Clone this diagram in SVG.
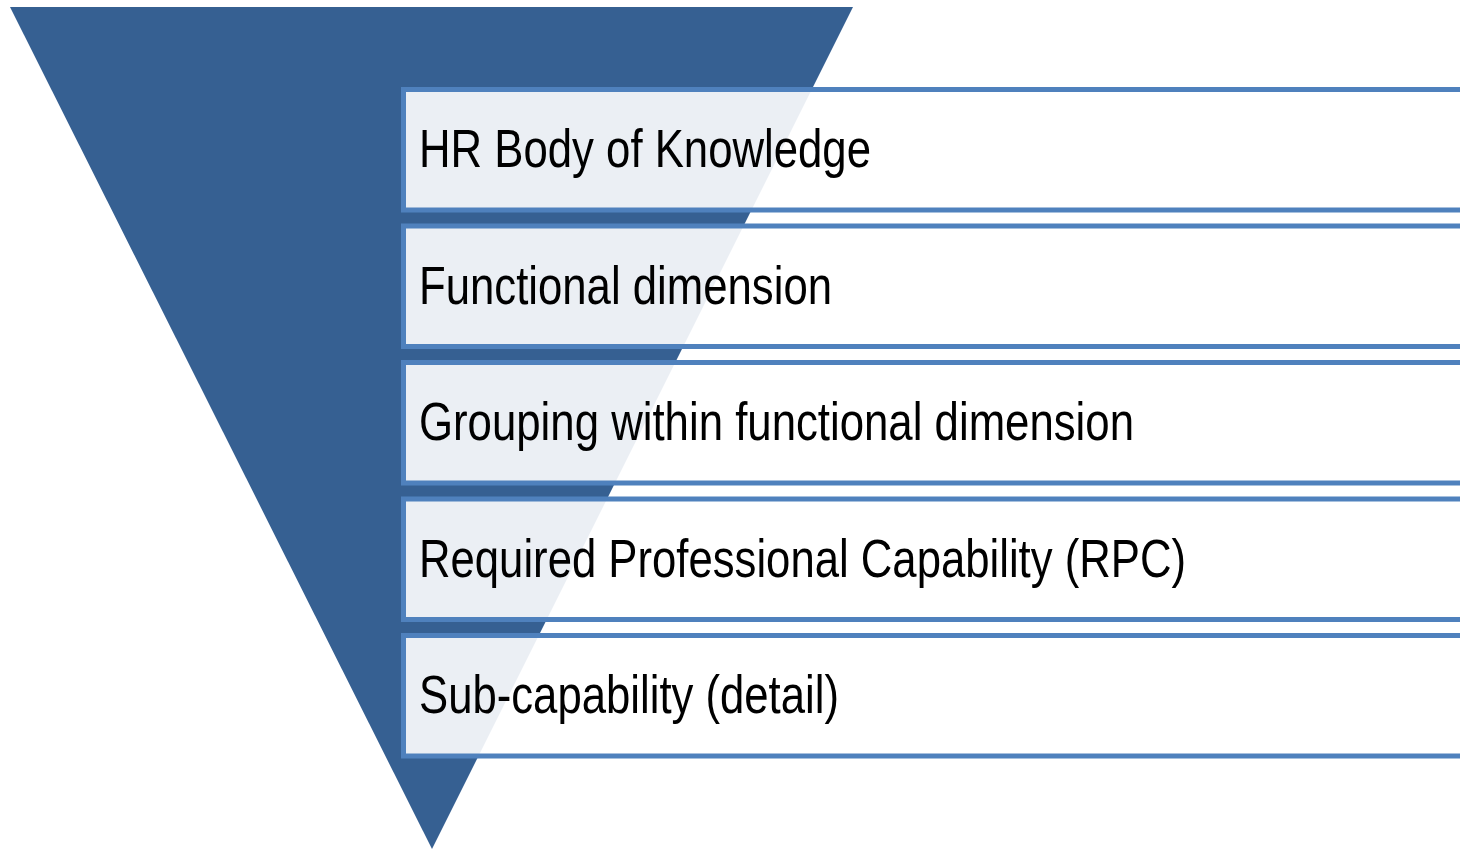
<svg xmlns="http://www.w3.org/2000/svg" width="1460" height="849" viewBox="0 0 1460 849">
  <style>
    .funnel { fill: #366092; }
    .bar { fill: #ffffff; fill-opacity: 0.9; stroke: #4f81bd; stroke-width: 5; }
    .label { font-family: "Liberation Sans Narrow", "Liberation Sans", Arial, sans-serif; font-size: 54px; fill: #000000; }
  </style>
  <rect width="1460" height="849" fill="#ffffff"/>
  <!-- inverted funnel triangle -->
  <g id="funnel">
    <polygon class="funnel" points="10,7 853,7 432,849"/>
  </g>
  <!-- hierarchy levels -->
  <g id="level1">
    <rect class="bar" x="403.5" y="89.5" width="1080" height="120.5"/>
    <text class="label" x="419" y="167" textLength="452" lengthAdjust="spacingAndGlyphs">HR Body of Knowledge</text>
  </g>
  <g id="level2">
    <rect class="bar" x="403.5" y="226" width="1080" height="120.5"/>
    <text class="label" x="419" y="303.5" textLength="413" lengthAdjust="spacingAndGlyphs">Functional dimension</text>
  </g>
  <g id="level3">
    <rect class="bar" x="403.5" y="362.5" width="1080" height="120.5"/>
    <text class="label" x="419" y="440" textLength="715" lengthAdjust="spacingAndGlyphs">Grouping within functional dimension</text>
  </g>
  <g id="level4">
    <rect class="bar" x="403.5" y="499" width="1080" height="120.5"/>
    <text class="label" x="419" y="576.5" textLength="767" lengthAdjust="spacingAndGlyphs">Required Professional Capability (RPC)</text>
  </g>
  <g id="level5">
    <rect class="bar" x="403.5" y="635.5" width="1080" height="120.5"/>
    <text class="label" x="419" y="713" textLength="420" lengthAdjust="spacingAndGlyphs">Sub-capability (detail)</text>
  </g>
</svg>
